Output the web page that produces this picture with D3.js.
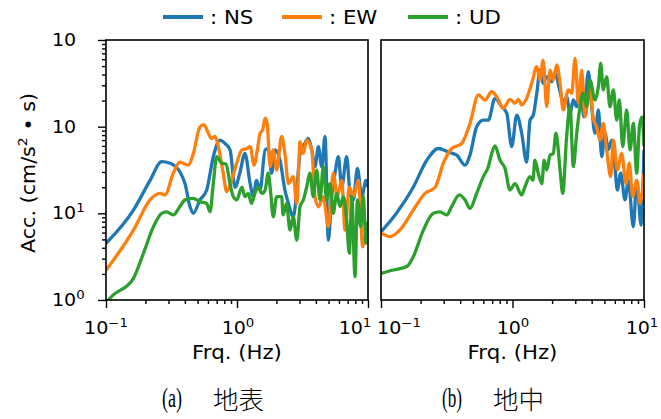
<!DOCTYPE html>
<html><head><meta charset="utf-8">
<script src="https://cdn.jsdelivr.net/npm/d3@7"></script>
<style>
body{margin:0;background:#fff;}
svg{display:block;}
</style></head>
<body><svg id="chart" width="661" height="419"></svg>
<script>
// ---- data: [frequency Hz, acceleration] ----
const seriesNames = ["NS", "EW", "UD"];
const captionTags = ["(a)", "(b)"];
const captionNames = ["地表", "地中"];
const xTickLabels = [["10", "\u22121"], ["10", "0"], ["10", "1"]];
const yTickLabels = [["10", ""], ["10", ""], ["10", "1"], ["10", "0"]];
const yTickValues = [1000, 100, 10, 1];
const xTickValues = [0.1, 1, 10];

const surfaceNS = [[0.1,4.5],[0.162,10.9],[0.217,24],[0.266,39.4],[0.308,37.8],[0.367,30],[0.401,22],[0.438,11.9],[0.464,10],[0.522,14.3],[0.587,18.6],[0.659,45],[0.741,70],[0.81,64],[0.885,54],[0.966,20],[1.05,29],[1.15,49],[1.26,22],[1.33,15.6],[1.41,24],[1.5,18.6],[1.64,54],[1.73,56],[1.84,29],[1.95,54],[2.13,41],[2.32,18.6],[2.47,13],[2.69,9.1],[2.86,18.6],[3.03,49],[3.21,59],[3.5,73],[3.72,54],[3.94,34.5],[4.18,59],[4.43,34.5],[4.7,77],[4.98,4.9],[5.28,15.6],[5.6,29],[5.94,45],[6.3,20],[6.87,45],[7.3,17],[7.73,14.3],[8.3,33],[8.96,15.6],[9.66,24],[10,20]];
const surfaceEW = [[0.1,2.2],[0.162,6.4],[0.217,14.3],[0.258,17],[0.282,16.3],[0.326,29],[0.367,39],[0.425,36],[0.464,49],[0.522,100],[0.56,105],[0.604,84],[0.641,73],[0.68,77],[0.72,59],[0.785,29],[0.834,17.8],[0.91,24],[0.995,38],[1.09,54],[1.19,56],[1.26,59],[1.35,36],[1.43,54],[1.5,84],[1.57,92],[1.64,125],[1.7,109],[1.79,34.5],[1.89,54],[2.01,31.6],[2.19,77],[2.32,49],[2.47,22],[2.69,26.5],[2.86,13],[3.03,67],[3.21,49],[3.4,70],[3.72,54],[3.94,15.6],[4.18,11.9],[4.56,15.6],[4.98,7],[5.43,29],[5.83,15.6],[6.3,24],[6.68,6.4],[7.2,20],[7.73,15.6],[8.43,24],[9.12,4.1],[9.66,5.9],[10,6]];
const surfaceUD = [[0.1,0.9],[0.107,1.04],[0.162,1.78],[0.193,3.45],[0.23,7],[0.266,10],[0.29,10.4],[0.326,9.6],[0.367,12],[0.401,14.3],[0.464,14.9],[0.522,13.6],[0.587,13],[0.622,10.4],[0.659,22],[0.7,45],[0.764,38],[0.824,37],[0.885,22],[0.936,15.6],[0.995,14.3],[1.09,20],[1.15,15.6],[1.22,17],[1.29,13],[1.37,17],[1.45,20],[1.55,17],[1.64,18.6],[1.73,29],[1.81,17],[1.89,9.1],[2.01,15.6],[2.19,15.6],[2.25,9.6],[2.39,13],[2.54,6.4],[2.69,9.1],[2.86,4.9],[3.03,12],[3.21,14.3],[3.4,20],[3.61,29],[3.82,15.6],[4.06,31.6],[4.3,14.3],[4.56,34.5],[4.84,14.3],[5.13,22],[5.43,10],[5.77,17],[6.11,12],[6.49,15.6],[6.87,8.4],[7.2,3.45],[7.52,15.6],[7.96,1.86],[8.3,14.3],[8.79,7],[9.2,15.6],[9.66,4.5],[10,8]];

const undergroundNS = [[0.1,6.1],[0.131,10],[0.176,20],[0.223,41],[0.273,56],[0.325,51],[0.377,47],[0.435,36],[0.475,47],[0.534,100],[0.6,119],[0.655,119],[0.736,212],[0.828,170],[0.904,143],[0.986,59],[1.077,136],[1.175,84],[1.28,39],[1.36,119],[1.44,136],[1.53,243],[1.62,450],[1.71,316],[1.82,378],[1.99,330],[2.1,412],[2.3,253],[2.43,186],[2.58,222],[2.74,143],[2.9,203],[3.08,170],[3.26,290],[3.5,130],[3.77,431],[4.0,170],[4.24,84],[4.5,156],[4.77,45],[5.05,84],[5.35,54],[5.68,70],[6.01,34.5],[6.27,18.6],[6.65,29],[7.17,14.3],[7.6,24],[8.3,7],[8.8,24],[9.5,7.3],[10,54]];
const undergroundEW = [[0.1,5.9],[0.117,5.4],[0.139,6.4],[0.176,10.9],[0.216,17],[0.258,20],[0.298,38],[0.345,56],[0.411,64],[0.475,109],[0.55,232],[0.618,203],[0.695,253],[0.759,222],[0.851,163],[0.957,207],[1.045,186],[1.107,207],[1.175,178],[1.28,212],[1.4,316],[1.53,492],[1.62,345],[1.71,587],[1.82,170],[1.93,450],[2.04,345],[2.17,515],[2.3,316],[2.43,156],[2.66,265],[2.82,243],[2.99,614],[3.17,186],[3.36,450],[3.56,130],[3.88,290],[4.11,125],[4.36,100],[4.62,70],[4.9,109],[5.2,54],[5.58,26.5],[5.85,70],[6.27,31.6],[6.76,49],[7.3,22],[7.73,38],[8.2,15.6],[8.8,24],[9.33,13],[10,29]];
const undergroundUD = [[0.1,2.03],[0.124,2.22],[0.157,2.43],[0.176,3.16],[0.21,6.4],[0.25,10],[0.281,10.4],[0.316,9.6],[0.345,12],[0.394,16.3],[0.435,14.3],[0.475,11.4],[0.534,17],[0.6,26.5],[0.655,34.5],[0.695,49],[0.736,60],[0.804,41],[0.877,33],[0.957,18.6],[1.045,22],[1.175,16.3],[1.24,20],[1.36,26.5],[1.43,24],[1.48,41],[1.57,29],[1.67,22],[1.74,41],[1.82,31.6],[1.93,47],[2.04,49],[2.14,84],[2.3,31.6],[2.41,17],[2.58,77],[2.74,170],[2.9,34.5],[3.08,84],[3.26,170],[3.45,243],[3.66,170],[3.88,345],[4.24,203],[4.5,290],[4.69,538],[4.9,265],[5.2,378],[5.51,170],[5.85,265],[6.2,119],[6.49,203],[6.89,59],[7.38,156],[7.83,54],[8.3,109],[8.8,29],[9.23,100],[9.66,130],[10,59]];

const panelData = [[surfaceNS, surfaceEW, surfaceUD], [undergroundNS, undergroundEW, undergroundUD]];
const colors = ["#1f77b4", "#ff7f0e", "#2ca02c"];

// ---- layout ----
const svg = d3.select("#chart");
const SX = 1.12; // horizontal text stretch
const plotTop = 40, plotBottom = 300;
const panels = [{x0: 106, x1: 368}, {x0: 381, x1: 644}];
const y = d3.scaleLog().domain([1, 1000]).range([plotBottom, plotTop]);
const tickFont = "'DejaVu Sans', sans-serif";

function stretchedText(parent, x, yy, parts, opts) {
  const t = parent.append("text")
    .attr("transform", `translate(${x},${yy}) scale(${opts.sx || SX},1)`)
    .attr("text-anchor", opts.anchor || "middle")
    .attr("font-family", opts.family || tickFont)
    .attr("font-size", opts.size)
    .attr("fill", "#000");
  t.append("tspan").text(parts[0]);
  if (parts[1]) {
    t.append("tspan").attr("dy", -opts.size * 0.42).attr("font-size", opts.size * 0.7).text(parts[1]);
  }
  return t;
}

const minorVals = [];
for (let d = 0.1; d < 10; d *= 10) for (let k = 2; k <= 9; k++) minorVals.push(+(d * k).toPrecision(3));
const yMinor = [];
for (let d = 1; d < 1000; d *= 10) for (let k = 2; k <= 9; k++) yMinor.push(d * k);

// clip paths
const defs = svg.append("defs");
panels.forEach((p, i) => {
  defs.append("clipPath").attr("id", "clip" + i).append("rect")
    .attr("x", p.x0).attr("y", plotTop).attr("width", p.x1 - p.x0).attr("height", plotBottom - plotTop);
});

const xLabelCenters = [[106, 238, 355], [399, 513, 642]];
const captionX = [[162, 213], [442, 493]];

panels.forEach((p, i) => {
  const x = d3.scaleLog().domain([0.1, 10]).range([p.x0, p.x1]);
  const g = svg.append("g");

  // lines
  const line = d3.line().x(d => x(d[0])).y(d => y(d[1])).curve(d3.curveMonotoneX);
  const lg = g.append("g").attr("clip-path", `url(#clip${i})`);
  panelData[i].forEach((s, j) => {
    lg.append("path").datum(s).attr("d", line)
      .attr("fill", "none").attr("stroke", colors[j]).attr("stroke-width", 3.3)
      .attr("stroke-linejoin", "round").attr("stroke-linecap", "butt");
  });

  // x axis ticks
  const xaxMajor = d3.axisBottom(x).tickValues(xTickValues).tickSize(8).tickFormat("");
  const xaxMinor = d3.axisBottom(x).tickValues(minorVals).tickSize(4).tickFormat("");
  [xaxMajor, xaxMinor].forEach(ax => {
    const a = g.append("g").attr("transform", `translate(0,${plotBottom})`).call(ax);
    a.select(".domain").remove();
    a.selectAll("line").attr("stroke", "#000").attr("stroke-width", 1.4);
  });
  if (i === 0) {
    const yaxMajor = d3.axisLeft(y).tickValues(yTickValues).tickSize(8).tickFormat("");
    const yaxMinor = d3.axisLeft(y).tickValues(yMinor).tickSize(4).tickFormat("");
    [yaxMajor, yaxMinor].forEach(ax => {
      const a = g.append("g").attr("transform", `translate(${p.x0},0)`).call(ax);
      a.select(".domain").remove();
      a.selectAll("line").attr("stroke", "#000").attr("stroke-width", 1.4);
    });
    yTickValues.forEach((v, k) => {
      stretchedText(g, 52, y(v) + 6, yTickLabels[k], {anchor: "start", size: 17});
    });
  }
  // frame
  g.append("rect").attr("x", p.x0).attr("y", plotTop).attr("width", p.x1 - p.x0).attr("height", plotBottom - plotTop)
    .attr("fill", "none").attr("stroke", "#000").attr("stroke-width", 1.6);

  // x tick labels
  xTickValues.forEach((v, k) => {
    stretchedText(g, xLabelCenters[i][k], 334, xTickLabels[k], {anchor: "middle", size: 17});
  });
  // x axis label
  stretchedText(g, (p.x0 + p.x1) / 2, 359, ["Frq. (Hz)"], {anchor: "middle", size: 19});

  // caption
  svg.append("text").attr("x", captionX[i][0]).attr("y", 407)
    .attr("font-family", "'Liberation Serif', serif")
    .attr("font-size", 27).attr("textLength", 20).attr("lengthAdjust", "spacingAndGlyphs")
    .text(captionTags[i]);
  svg.append("text").attr("x", captionX[i][1]).attr("y", 409)
    .attr("font-family", "'Noto Sans CJK JP', sans-serif").attr("font-weight", 300)
    .attr("font-size", 25).attr("textLength", 51).attr("lengthAdjust", "spacingAndGlyphs")
    .text(captionNames[i]);
});

// y axis label
const yl = svg.append("text")
  .attr("transform", "translate(35,173) rotate(-90)")
  .attr("text-anchor", "middle").attr("font-family", tickFont).attr("font-size", 19)
  .attr("textLength", 160).attr("lengthAdjust", "spacingAndGlyphs");
yl.append("tspan").text("Acc. (cm/s");
yl.append("tspan").attr("dy", -8).attr("font-size", 13).text("2");
yl.append("tspan").attr("dy", 8).text(" \u2022 s)");

// legend
const legendX = [163, 282, 408];
seriesNames.forEach((n, j) => {
  svg.append("line").attr("x1", legendX[j]).attr("x2", legendX[j] + 40).attr("y1", 17).attr("y2", 17)
    .attr("stroke", colors[j]).attr("stroke-width", 4);
  stretchedText(svg, legendX[j] + 47, 24, [": " + n], {anchor: "start", size: 19});
});
</script></body></html>
